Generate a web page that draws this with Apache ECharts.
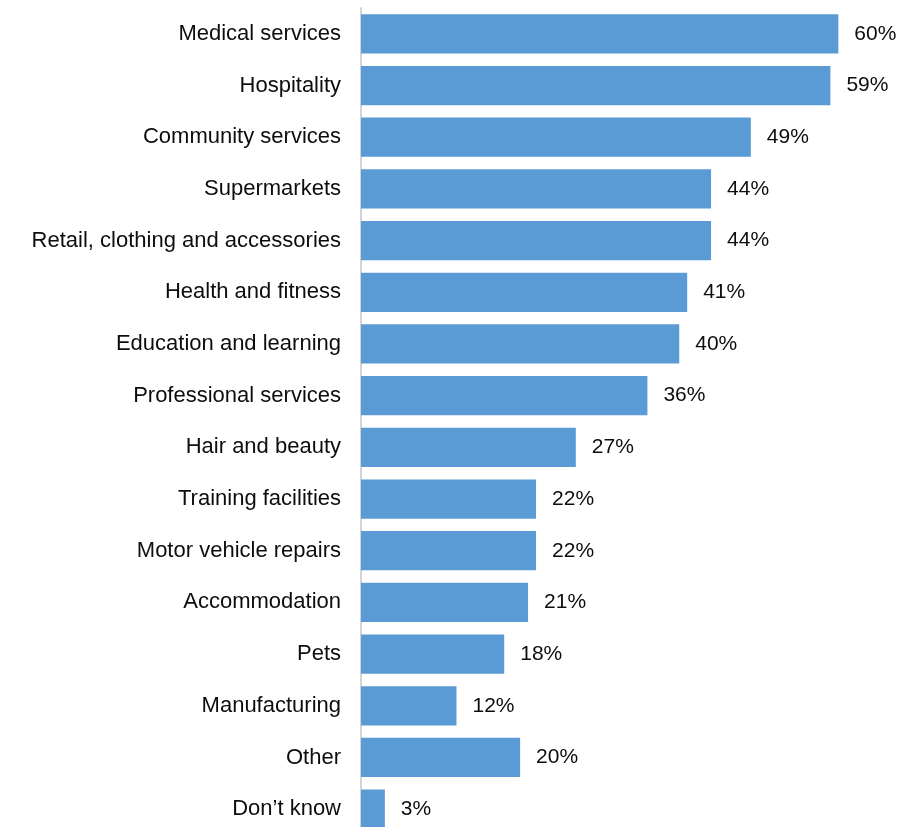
<!DOCTYPE html>
<html>
<head>
<meta charset="utf-8">
<script src="https://cdn.jsdelivr.net/npm/echarts@6/dist/echarts.min.js"></script>
<style>
  html, body { margin: 0; padding: 0; background: #ffffff; }
  #chart { width: 904px; height: 827px; }
</style>
</head>
<body>
<div id="chart"></div>
<script>
// Sectors, top to bottom
const categories = [
  'Medical services',
  'Hospitality',
  'Community services',
  'Supermarkets',
  'Retail, clothing and accessories',
  'Health and fitness',
  'Education and learning',
  'Professional services',
  'Hair and beauty',
  'Training facilities',
  'Motor vehicle repairs',
  'Accommodation',
  'Pets',
  'Manufacturing',
  'Other',
  'Don\u2019t know'
];

// Share of respondents (%)
const shares = [60, 59, 49, 44, 44, 41, 40, 36, 27, 22, 22, 21, 18, 12, 20, 3];

const chart = echarts.init(document.getElementById('chart'), null, { renderer: 'canvas' });

chart.setOption({
  animation: false,
  backgroundColor: '#ffffff',
  // the last row runs slightly past the bottom edge of the canvas
  grid: {
    left: 361, right: 2, top: 8, height: 827,
    containLabel: false,
    outerBoundsMode: 'none'
  },
  xAxis: {
    type: 'value',
    min: 0,
    max: 68,
    show: false
  },
  yAxis: {
    type: 'category',
    data: categories,
    inverse: true,
    axisLine: { show: true, lineStyle: { color: '#d4d4d4', width: 2 } },
    axisTick: { show: false },
    splitLine: { show: false },
    axisLabel: {
      margin: 20,
      color: '#0d0d0d',
      fontFamily: 'Liberation Sans, Arial, sans-serif',
      fontSize: 22
    }
  },
  series: [{
    type: 'bar',
    data: shares,
    barCategoryGap: '24%',
    itemStyle: { color: '#5b9bd5' },
    label: {
      show: true,
      position: 'right',
      distance: 16,
      formatter: '{c}%',
      color: '#0d0d0d',
      fontFamily: 'Liberation Sans, Arial, sans-serif',
      fontSize: 21
    }
  }]
});
</script>
</body>
</html>
